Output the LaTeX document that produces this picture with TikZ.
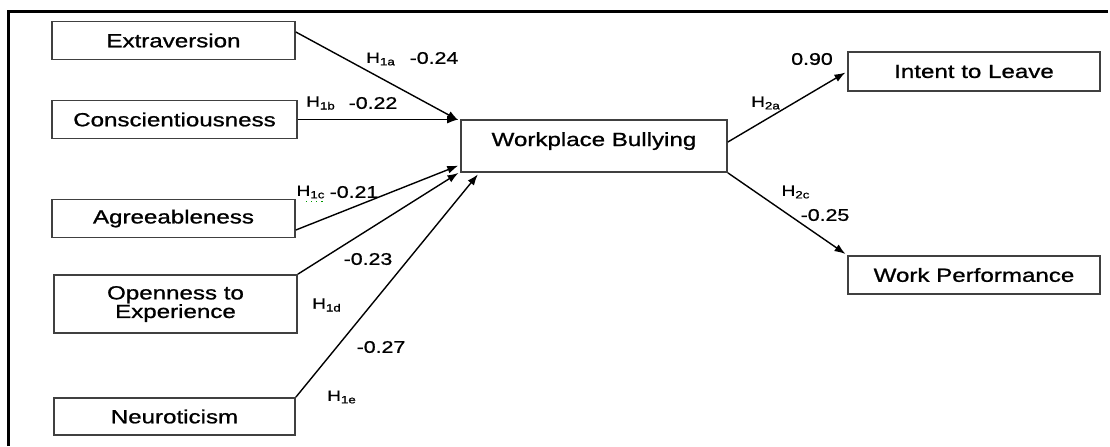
\documentclass[tikz,border=0pt]{standalone}
\usepackage{fontspec}
\setmainfont[FakeStretch=1.27,FakeBold=1]{Liberation Sans}
\usetikzlibrary{arrows.meta}

\begin{document}
\begin{tikzpicture}[x=0.5pt,y=-0.5pt,shorten >=1pt,->,>={Latex[length=5.5pt,width=4pt]},line width=0.7pt]
		\tikzstyle{factor}=[draw=black!75,line width=0.85pt,inner sep=0pt,minimum height=19pt,font=\fontsize{9.5}{9.3}\selectfont]
		\tikzstyle{coef}=[inner sep=0pt,font=\fontsize{8.4}{9}\selectfont]
		\tikzstyle{hyp}=[inner sep=0pt,font=\fontsize{7.5}{8}\selectfont]

		\useasboundingbox (0,0) rectangle (1110,446);
		\draw[-,line width=1.5pt] (8,446) -- (8,11) -- (1110,11);

		\node[factor,minimum width=121.5pt](ext) at (173.5,40.5){Extraversion};
		\node[factor,minimum width=122.5pt](con) at (174.5,119.5){Conscientiousness};
		\node[factor,minimum width=121.5pt](agr) at (173.5,218.5){Agreeableness};
		\node[factor,minimum width=121.5pt,minimum height=29pt,align=center](opn) at (175.5,304){Openness to\\Experience};
		\node[factor,minimum width=120.5pt,minimum height=18.5pt](neu) at (174.5,416.5){Neuroticism};
		\node[factor,minimum width=133pt,text height=13pt,text depth=13pt](wb) at (594,146){Workplace Bullying};
		\node[factor,minimum width=126pt,minimum height=19.5pt](itl) at (974,71.5){Intent to Leave};
		\node[factor,minimum width=126pt](wp) at (974,275){Work Performance};

		\draw ([yshift=4.25pt]ext.east) -- ([yshift=-1pt]wb.north west);
		\draw (con) -- (con -| wb.west);
		\draw ([yshift=-5.75pt]agr.east) -- ([yshift=4pt]wb.south west);
		\draw (opn.north east) -- ([yshift=0.5pt]wb.south west);
		\draw (neu.north east) -- ([xshift=9.5pt]wb.south west);
		\draw ([yshift=2pt]wb.east) -- (itl.west);
		\draw (wb.south east) -- (wp.north west);

		\node[hyp](h1a) at (381,59){H\textsubscript{1a}};
		\node[coef](c1a) at (434,58){-0.24};
		\node[hyp](h1b) at (321,103){H\textsubscript{1b}};
		\node[coef](c1b) at (373,103){-0.22};
		\node[hyp](h1c) at (311,192){H\textsubscript{1c}};
		\node[coef](c1c) at (354,192){-0.21};
		\node[coef](c1d) at (368,259){-0.23};
		\node[hyp](h1d) at (327,305){H\textsubscript{1d}};
		\node[coef](c1e) at (381,347){-0.27};
		\node[hyp](h1e) at (342,397){H\textsubscript{1e}};
		\node[coef](c2a) at (812,59){0.90};
		\node[hyp](h2a) at (766,103){H\textsubscript{2a}};
		\node[hyp](h2c) at (796,192){H\textsubscript{2c}};
		\node[coef](c2c) at (825,215){-0.25};
% 		spell-check mark under the subscript
		\draw[-,shorten >=0pt,green!60!black,dotted,line width=0.6pt] ([xshift=5pt,yshift=-1pt]h1c.south west) -- ([yshift=-1pt]h1c.south east);
	\end{tikzpicture}
\end{document}
